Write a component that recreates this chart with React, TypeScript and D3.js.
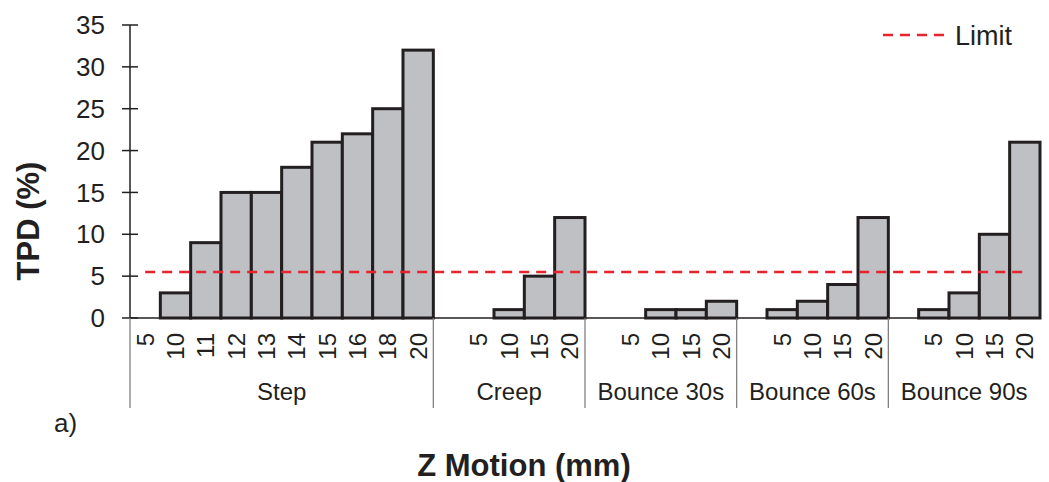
import React from "react";
import * as d3 from "d3";

// Test groups and the Z-motion levels tested in each
const groups = ["Step", "Creep", "Bounce 30s", "Bounce 60s", "Bounce 90s"];
const stepLevels = ["5", "10", "11", "12", "13", "14", "15", "16", "18", "20"];
const motionLevels = ["5", "10", "15", "20"];

// TPD (%) per level
const stepValues = [0, 3, 9, 15, 15, 18, 21, 22, 25, 32];
const creepValues = [0, 1, 5, 12];
const bounce30Values = [0, 1, 1, 2];
const bounce60Values = [1, 2, 4, 12];
const bounce90Values = [1, 3, 10, 21];

const yTicks = [0, 5, 10, 15, 20, 25, 30, 35];
const limitValue = 5.5;

const W = 1049;
const H = 482;
const margin = { left: 130, right: 9, top: 25, base: 318 };
const ink = "#231f20";
const font = "'Liberation Sans', Arial, Helvetica, sans-serif";

type Slot = { key: string; group: number; label: string | null; value: number | null };

// Each group after the first starts with an empty spacer slot
function buildSlots(): Slot[] {
  const series = [stepValues, creepValues, bounce30Values, bounce60Values, bounce90Values];
  const slots: Slot[] = [];
  series.forEach((vals, g) => {
    const levels = g === 0 ? stepLevels : motionLevels;
    if (g > 0) slots.push({ key: `gap-${g}`, group: g, label: null, value: null });
    levels.forEach((lv, i) => slots.push({ key: `${g}-${lv}`, group: g, label: lv, value: vals[i] }));
  });
  return slots;
}

export default function App() {
  const slots = buildSlots();
  const x = d3
    .scaleBand<string>()
    .domain(slots.map((s) => s.key))
    .range([margin.left, W - margin.right])
    .padding(0);
  const y = d3.scaleLinear().domain([0, 35]).range([margin.base, margin.top]);
  const bw = x.bandwidth();

  // group boundaries
  const groupExtents = groups.map((_, g) => {
    const gs = slots.filter((s) => s.group === g);
    const x0 = x(gs[0].key)!;
    const x1 = x(gs[gs.length - 1].key)! + bw;
    return [x0, x1];
  });

  const firstCenter = x(slots[0].key)! + bw / 2;
  const lastCenter = x(slots[slots.length - 1].key)! + bw / 2;
  const dividerBottom = 408;

  return (
    <svg width={W} height={H} style={{ position: "absolute", left: 0, top: 0, background: "#fff" }} fontFamily={font}>
      {/* bars */}
      {slots
        .filter((s) => s.value !== null && s.value > 0)
        .map((s) => (
          <rect
            key={s.key}
            x={x(s.key)!}
            y={y(s.value!)}
            width={bw}
            height={y(0) - y(s.value!)}
            fill="#bfc0c4"
            stroke={ink}
            strokeWidth={3}
          />
        ))}

      {/* y axis */}
      <line x1={margin.left} x2={margin.left} y1={y(35)} y2={y(0)} stroke={ink} strokeWidth={1.5} />
      {yTicks.map((t) => (
        <g key={t}>
          <line x1={margin.left - 8} x2={margin.left + 8} y1={y(t)} y2={y(t)} stroke={ink} strokeWidth={1.5} />
          <text x={105} y={y(t)} dy="0.35em" textAnchor="end" fontSize={26} fill={ink}>
            {t}
          </text>
        </g>
      ))}

      {/* x axis */}
      <line x1={margin.left} x2={W - margin.right} y1={y(0)} y2={y(0)} stroke={ink} strokeWidth={1.5} />
      {[margin.left, ...groupExtents.slice(0, -1).map((e) => e[1])].map((xx, i) => (
        <line key={i} x1={xx} x2={xx} y1={y(0)} y2={dividerBottom} stroke="#808080" strokeWidth={1.3} />
      ))}

      {/* level labels */}
      {slots
        .filter((s) => s.label !== null)
        .map((s) => (
          <text
            key={`l-${s.key}`}
            transform={`translate(${x(s.key)! + bw / 2},333) rotate(-90)`}
            dy="0.36em"
            textAnchor="end"
            fontSize={24}
            fill={ink}
          >
            {s.label}
          </text>
        ))}

      {/* group labels */}
      {groups.map((g, i) => (
        <text
          key={g}
          x={(groupExtents[i][0] + groupExtents[i][1]) / 2}
          y={400}
          textAnchor="middle"
          fontSize={24}
          fill={ink}
        >
          {g}
        </text>
      ))}

      {/* limit line */}
      <line
        x1={firstCenter}
        x2={lastCenter}
        y1={y(limitValue)}
        y2={y(limitValue)}
        stroke="#e8232b"
        strokeWidth={2.5}
        strokeDasharray="10 7"
      />

      {/* legend */}
      <line x1={883} x2={946} y1={35} y2={35} stroke="#e8232b" strokeWidth={2.5} strokeDasharray="10 7" />
      <text x={955} y={45} fontSize={27} fill={ink}>
        Limit
      </text>

      {/* titles */}
      <text
        transform={`translate(39,221) rotate(-90)`}
        textAnchor="middle"
        fontSize={31}
        fontWeight="bold"
        fill={ink}
      >
        TPD (%)
      </text>
      <text x={524} y={476} textAnchor="middle" fontSize={31} fontWeight="bold" fill={ink}>
        Z Motion (mm)
      </text>
      <text x={54} y={432} fontSize={26} fill={ink}>
        a)
      </text>
    </svg>
  );
}
